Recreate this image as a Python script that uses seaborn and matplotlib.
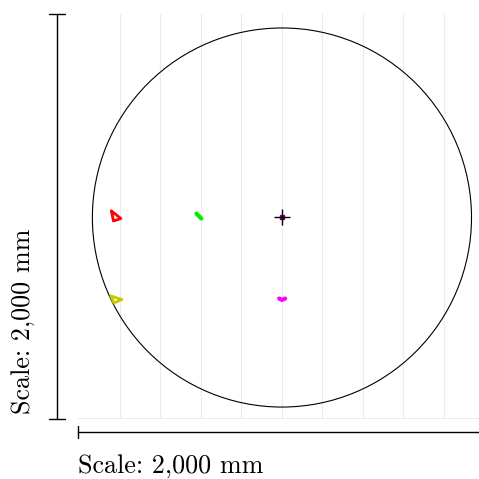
import numpy as np
import pandas as pd
import matplotlib
matplotlib.use("Agg")
import matplotlib.pyplot as plt
import seaborn as sns
from matplotlib.patches import Circle
from matplotlib.lines import Line2D

# ---- data (mm) ----
circle_center = (0.0, -5.0)
circle_radius = 936.0

red_x = [-842, -795, -832, -842]
red_y = [27, -10, -22, 27]
yellow_x = [-844, -790, -830, -844]
yellow_y = [-393, -410, -427, -393]
green_x = [-422, -410, -398]
green_y = [14, 2, -10]
magenta_x = [-14, 0, 16]
magenta_y = [-405, -412, -405]
center_x = [0]
center_y = [0]

grid_x = [-800, -600, -400, -200, 0, 200, 400, 600, 800]
x_limits = (-1007, 973)
y_limits = (-1000, 1000)
scale_label = "Scale: 2,000 mm"

# ---- style ----
sns.set_theme(style="white")
plt.rcParams["font.family"] = ["cmr10", "DejaVu Serif"]
plt.rcParams["axes.formatter.use_mathtext"] = True

W = H = 479
fig = plt.figure(figsize=(W / 100, H / 100), dpi=100)
L, R, T, B = 78, 479, 14, 419
ax = fig.add_axes([L / W, 1 - B / H, (R - L) / W, (B - T) / H])
ax.set_xlim(*x_limits)
ax.set_ylim(*y_limits)
for s in ax.spines.values():
    s.set_visible(False)
ax.set_xticks([])
ax.set_yticks([])

gc = "#ebebeb"
for gx in grid_x:
    ax.axvline(gx, color=gc, lw=0.8, zorder=0)
ax.axhline(y_limits[0], color=gc, lw=1.5, zorder=0)

ax.add_patch(Circle(circle_center, circle_radius, fill=False, ec="black", lw=0.8, zorder=2))

def track(xs, ys, color, lw):
    df = pd.DataFrame({"x": xs, "y": ys})
    sns.lineplot(data=df, x="x", y="y", sort=False, estimator=None, color=color,
                 lw=lw, ax=ax, solid_joinstyle="round", solid_capstyle="round", zorder=3)

track(red_x, red_y, "#ff0000", 2.0)
track(yellow_x, yellow_y, "#c8c800", 2.0)
track(green_x, green_y, "#00ee00", 3.0)
track(magenta_x, magenta_y, "#ff00ff", 3.0)

ax.plot(center_x, center_y, marker="s", ms=3.5, color="#7a007a", ls="none", zorder=4)
ax.plot(center_x, center_y, marker="+", ms=11, mew=1.0, color="black", ls="none", zorder=5)
ax.set_xlabel("")
ax.set_ylabel("")

# scale bars
k = "black"
lw = 1.0
def fl(x0, y0, x1, y1):
    fig.add_artist(Line2D([x0 / W, x1 / W], [1 - y0 / H, 1 - y1 / H], color=k, lw=lw))

fl(57, 14, 57, 419)
fl(49, 14, 65, 14)
fl(49, 419, 65, 419)
fl(78, 432, 479, 432)
fl(78, 426, 78, 438)

fs = 18.8
fig.text(78 / W, 1 - 473 / H, scale_label, fontsize=fs, ha="left", va="baseline", color="black")
fig.text(30 / W, 1 - 414 / H, scale_label, fontsize=fs, ha="left", va="baseline",
         rotation=90, rotation_mode="anchor", color="black")

fig.savefig("out.png", dpi=100)
